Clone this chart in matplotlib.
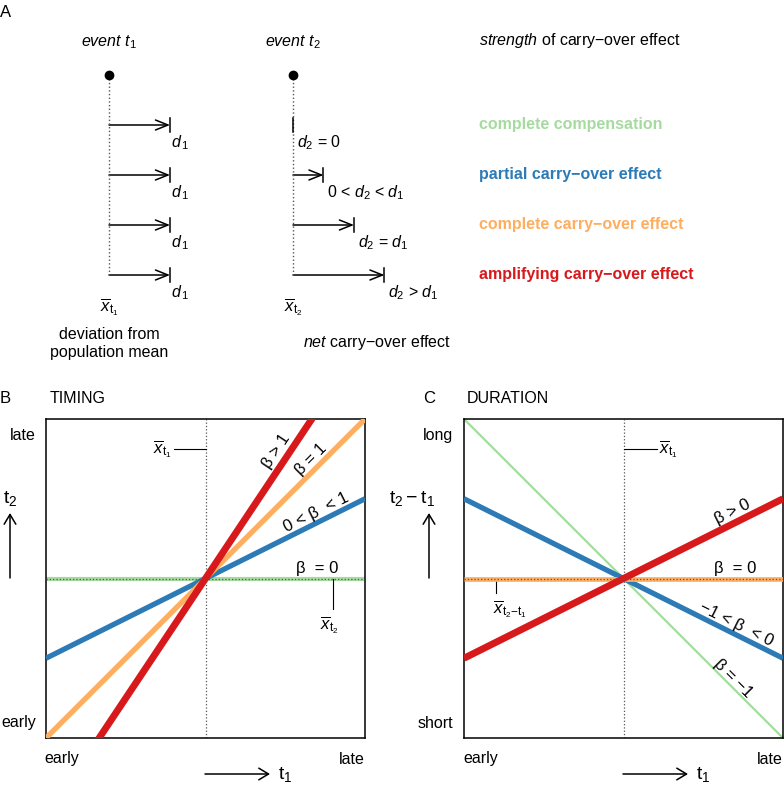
import numpy as np
import matplotlib
matplotlib.use('Agg')
import matplotlib.pyplot as plt
from matplotlib.patches import FancyArrowPatch

plt.rcParams['font.family'] = ['Liberation Sans', 'DejaVu Sans']
plt.rcParams['mathtext.fontset'] = 'custom'
plt.rcParams['mathtext.rm'] = 'Liberation Sans'
plt.rcParams['mathtext.it'] = 'Liberation Sans:italic'
plt.rcParams['mathtext.bf'] = 'Liberation Sans:bold'

# panel A: deviations d1 at event t1 and net carry-over d2 at event t2 (units of d1)
d1 = [1, 1, 1, 1]
d2 = [0, 0.5, 1, 1.5]
d2_labels = [r'$d_2$ = 0', r'0 < $d_2$ < $d_1$', r'$d_2$ = $d_1$', r'$d_2$ > $d_1$']
effects = ['complete compensation', 'partial carry\u2212over effect',
           'complete carry\u2212over effect', 'amplifying carry\u2212over effect']
colors = ['#a6dba0', '#2c7bb6', '#fdae61', '#d7191c']

# panels B and C: slopes of t2 (timing) and t2-t1 (duration) on t1
timing_slopes = [0, 0.5, 1, 1.5]
timing_labels = ['\u03b2  = 0', '0 < \u03b2  < 1', '\u03b2 = 1', '\u03b2 > 1']
duration_slopes = [-1, -0.5, 0, 0.5]
duration_labels = ['\u03b2 = \u22121', '\u22121 < \u03b2  < 0', '\u03b2  = 0', '\u03b2 > 0']

fs = 11.5
fig = plt.figure(figsize=(7.84, 7.88), dpi=100)

# overlay in pixel coordinates for panel A and outer labels
ov = fig.add_axes([0, 0, 1, 1])
ov.set_xlim(0, 784)
ov.set_ylim(788, 0)
ov.axis('off')


def arrow(ax, x0, y0, x1, y1, ms=20, hl=0.45, hw=0.18, lw=1.1):
    ax.add_patch(FancyArrowPatch((x0, y0), (x1, y1),
                                 arrowstyle='->,head_length=%s,head_width=%s' % (hl, hw),
                                 mutation_scale=ms, lw=lw, color='black',
                                 shrinkA=0, shrinkB=0))


# ---- panel A ----
ov.text(0, 12, 'A', fontsize=12, va='center', ha='left')
x_t1, x_t2, unit = 109, 293, 61
rows = [125, 175, 225, 275]
ov.text(x_t1, 42, r'event $t_1$', style='italic', fontsize=fs, ha='center', va='center')
ov.text(x_t2, 42, r'event $t_2$', style='italic', fontsize=fs, ha='center', va='center')
ov.text(479, 40, r'$\mathit{strength}$ of carry$-$over effect', fontsize=fs, ha='left', va='center')
for x0 in [x_t1, x_t2]:
    ov.plot([x0, x0], [75, rows[-1]], ls=':', color='#555555', lw=1)
    ov.plot([x0], [75], 'o', color='black', ms=6)
for i, y in enumerate(rows):
    e1 = x_t1 + d1[i] * unit
    arrow(ov, x_t1, y, e1, y)
    ov.plot([e1, e1], [y - 7, y + 7], color='black', lw=1.1)
    ov.text(e1 + 1, y + 18, r'$d_{\,1}$', fontsize=fs, ha='left', va='center')
    e2 = x_t2 + d2[i] * unit
    if d2[i] > 0:
        arrow(ov, x_t2, y, e2, y)
    ov.plot([e2, e2], [y - 7, y + 7], color='black', lw=1.1)
    ov.text(e2 + 4, y + 18, d2_labels[i], fontsize=fs, ha='left', va='center')
    ov.text(479, y - 1, effects[i], color=colors[i], fontsize=fs,
            fontweight='bold', ha='left', va='center')
ov.text(x_t1, 307, r'$\overline{x}_{\mathrm{t}_1}$', fontsize=12, ha='center', va='center')
ov.text(x_t2, 307, r'$\overline{x}_{\mathrm{t}_2}$', fontsize=12, ha='center', va='center')
ov.text(x_t1, 343, 'deviation from\npopulation mean', fontsize=fs, ha='center',
        va='center', linespacing=1.25)
ov.text(377, 342, r'$\mathit{net}$ carry$-$over effect', fontsize=fs, ha='center', va='center')


def line_label(ax, t, slope, text, off):
    th = np.arctan(slope)
    ax.annotate(text, (t, slope * t), xytext=(-np.sin(th) * off, np.cos(th) * off),
                textcoords='offset points', rotation=np.degrees(th),
                rotation_mode='anchor', ha='center', va='center', fontsize=12)


def panel(left, slopes, widths, order):
    ax = fig.add_axes([left / 784, 50 / 788, 319 / 784, 319 / 788])
    x = np.array([-1.0, 1.0])
    for i in order:
        ax.plot(x, slopes[i] * x, color=colors[i], lw=widths[i], solid_capstyle='butt', zorder=2 + i)
    ax.plot([0, 0], [-1, 1], ls=':', color='#555555', lw=0.9, zorder=1)
    ax.plot([-1, 1], [0, 0], ls=':', color='#555555', lw=0.9, zorder=10)
    ax.set_xlim(-1, 1)
    ax.set_ylim(-1, 1)
    ax.set_xticks([])
    ax.set_yticks([])
    for s in ax.spines.values():
        s.set_linewidth(1.1)
    return ax


# ---- panel B ----
axB = panel(46, timing_slopes, [3.0, 3.8, 3.8, 5.0], [0, 1, 2, 3])
line_label(axB, 0.506, timing_slopes[3], timing_labels[3], 8.5)
line_label(axB, 0.705, timing_slopes[2], timing_labels[2], 6.6)
line_label(axB, 0.722, timing_slopes[1], timing_labels[1], 6.7)
axB.text(0.70, 0.06, timing_labels[0], fontsize=12, ha='center', va='center')
axB.plot([0.8, 0.8], [0, -0.19], color='black', lw=0.8)
axB.text(0.775, -0.29, r'$\overline{x}_{\mathrm{t}_2}$', fontsize=12, ha='center', va='center')
axB.plot([-0.2, 0], [0.81, 0.81], color='black', lw=0.8)
axB.text(-0.21, 0.81, r'$\overline{x}_{\mathrm{t}_1}$', fontsize=12, ha='right', va='center')

ov.text(0, 398, 'B', fontsize=12, va='center', ha='left')
ov.text(50, 398, 'TIMING', fontsize=fs, va='center', ha='left')
ov.text(36, 435, 'late', fontsize=fs, ha='right', va='center')
ov.text(36, 723, 'early', fontsize=fs, ha='right', va='center')
ov.text(10, 498, r'$\mathrm{t}_2$', fontsize=14, ha='center', va='center')
arrow(ov, 10, 578, 10, 513, ms=14, hl=0.5, hw=0.3)
ov.text(44, 759, 'early', fontsize=fs, ha='left', va='center')
ov.text(365, 759, 'late', fontsize=fs, ha='right', va='center')
arrow(ov, 205, 774, 270, 774, ms=14, hl=0.5, hw=0.3)
ov.text(278, 775, r'$\mathrm{t}_1$', fontsize=14, ha='left', va='center')

# ---- panel C ----
axC = panel(464, duration_slopes, [1.6, 3.8, 3.4, 5.0], [0, 1, 2, 3])
line_label(axC, 0.714, duration_slopes[3], duration_labels[3], 7.9)
line_label(axC, 0.682, duration_slopes[1], duration_labels[1], 6.7)
line_label(axC, 0.658, duration_slopes[0], duration_labels[0], 4.8)
axC.text(0.70, 0.06, duration_labels[2], fontsize=12, ha='center', va='center')
axC.plot([0, 0.21], [0.81, 0.81], color='black', lw=0.8)
axC.text(0.22, 0.81, r'$\overline{x}_{\mathrm{t}_1}$', fontsize=12, ha='left', va='center')
axC.plot([-0.8, -0.8], [0, -0.09], color='black', lw=0.8)
axC.text(-0.82, -0.19, r'$\overline{x}_{\mathrm{t}_2\mathrm{-t}_1}$', fontsize=12, ha='left', va='center')

ov.text(423, 398, 'C', fontsize=12, va='center', ha='left')
ov.text(467, 398, 'DURATION', fontsize=fs, va='center', ha='left')
ov.text(453, 435, 'long', fontsize=fs, ha='right', va='center')
ov.text(453, 723, 'short', fontsize=fs, ha='right', va='center')
ov.text(412, 498, r'$\mathrm{t}_2 - \mathrm{t}_1$', fontsize=14, ha='center', va='center')
arrow(ov, 429, 578, 429, 513, ms=14, hl=0.5, hw=0.3)
ov.text(463, 759, 'early', fontsize=fs, ha='left', va='center')
ov.text(783, 759, 'late', fontsize=fs, ha='right', va='center')
arrow(ov, 623, 774, 688, 774, ms=14, hl=0.5, hw=0.3)
ov.text(696, 775, r'$\mathrm{t}_1$', fontsize=14, ha='left', va='center')

fig.savefig('out.png', dpi=100)
